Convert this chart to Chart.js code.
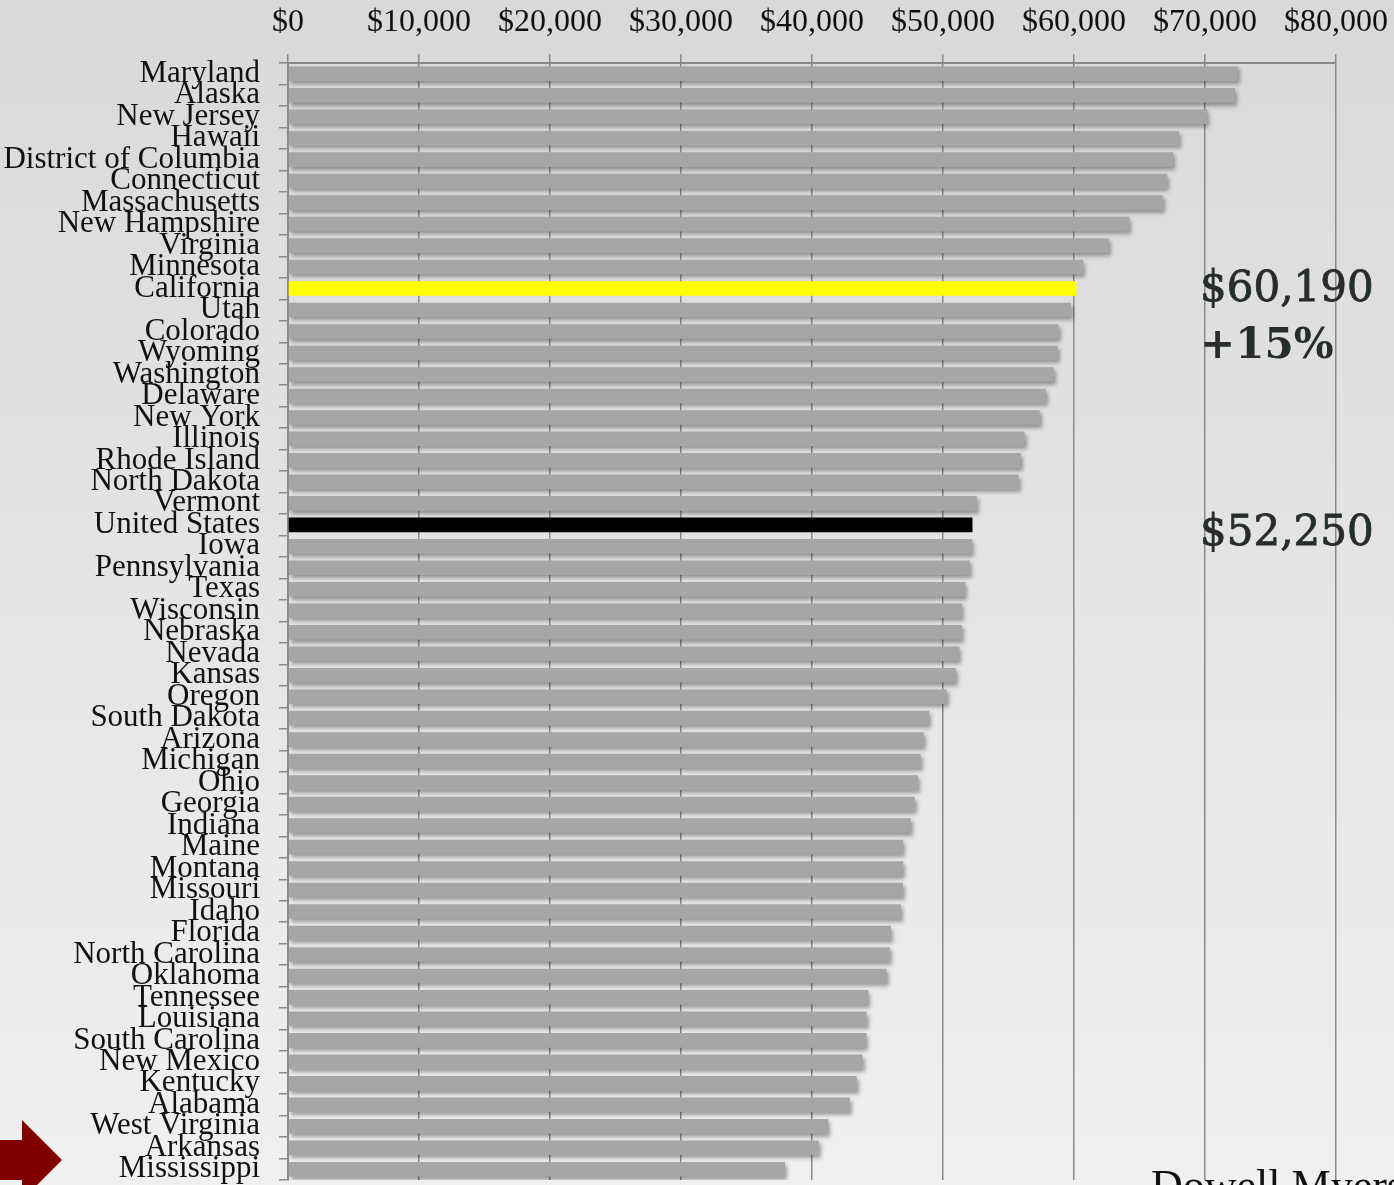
<!DOCTYPE html>
<html>
<head>
<meta charset="utf-8">
<script src="https://cdn.jsdelivr.net/npm/chart.js@4/dist/chart.umd.min.js"></script>
<style>
  html, body { margin: 0; padding: 0; background: #e3e3e3; }
  #wrap { width: 1394px; height: 1185px; position: relative; overflow: hidden; }
</style>
</head>
<body>
<div id="wrap"><canvas id="c" width="1394" height="1185"></canvas></div>
<script>
const categories = [
  'Maryland','Alaska','New Jersey','Hawaii','District of Columbia','Connecticut','Massachusetts',
  'New Hampshire','Virginia','Minnesota','California','Utah','Colorado','Wyoming','Washington',
  'Delaware','New York','Illinois','Rhode Island','North Dakota','Vermont','United States','Iowa',
  'Pennsylvania','Texas','Wisconsin','Nebraska','Nevada','Kansas','Oregon','South Dakota','Arizona',
  'Michigan','Ohio','Georgia','Indiana','Maine','Montana','Missouri','Idaho','Florida',
  'North Carolina','Oklahoma','Tennessee','Louisiana','South Carolina','New Mexico','Kentucky',
  'Alabama','West Virginia','Arkansas','Mississippi'
];
const medianIncome = [
  72500, 72290, 70180, 68015, 67580, 67120, 66770,
  64220, 62650, 60710, 60190, 59770, 58830, 58750, 58450,
  57860, 57380, 56230, 55930, 55780, 52570, 52250, 52240,
  52040, 51700, 51450, 51430, 51250, 50970, 50280, 48950, 48520,
  48300, 48090, 47840, 47530, 46970, 46960, 46950, 46790, 46030,
  45930, 45710, 44300, 44170, 44160, 43870, 43410,
  42880, 41250, 40510, 37940
];
const highlightColors = { 'California': '#ffff00', 'United States': '#000000' };
const xTickLabels = ['$0','$10,000','$20,000','$30,000','$40,000','$50,000','$60,000','$70,000','$80,000'];
const annotations = [
  { anchor: 'California', lines: [ { text: '$60,190', bold: false, dy: 12 }, { text: '+15%', bold: true, dy: 69 } ] },
  { anchor: 'United States', lines: [ { text: '$52,250', bold: false, dy: 20 } ] }
];

const grayData = medianIncome.map((v, i) => highlightColors[categories[i]] ? null : v);
const hiData = medianIncome.map((v, i) => highlightColors[categories[i]] ? v : null);
const hiColors = categories.map(c => highlightColors[c] || '#a6a6a6');

const bgPlugin = {
  id: 'bg',
  beforeDraw(chart) {
    const ctx = chart.ctx;
    const g = ctx.createLinearGradient(0, 0, 0, chart.height);
    g.addColorStop(0, '#d9d9d9');
    g.addColorStop(1, '#f0f0f0');
    ctx.save();
    ctx.fillStyle = g;
    ctx.fillRect(0, 0, chart.width, chart.height);
    ctx.restore();
  }
};

const shadowPlugin = {
  id: 'shadow',
  beforeDatasetDraw(chart, args) {
    if (args.index === 0) {
      const ctx = chart.ctx;
      ctx.save();
      ctx.shadowColor = 'rgba(0,0,0,0.35)';
      ctx.shadowBlur = 4;
      ctx.shadowOffsetX = 2;
      ctx.shadowOffsetY = 3;
    }
  },
  afterDatasetDraw(chart, args) {
    if (args.index === 0) chart.ctx.restore();
  }
};

const overlayPlugin = {
  id: 'overlay',
  afterDraw(chart) {
    const ctx = chart.ctx;
    const y = chart.scales.y;
    ctx.save();
    ctx.fillStyle = '#262d2d';
    ctx.strokeStyle = '#262d2d';
    ctx.lineWidth = 0.8;
    ctx.textBaseline = 'alphabetic';
    ctx.textAlign = 'left';
    annotations.forEach(a => {
      const yc = y.getPixelForValue(categories.indexOf(a.anchor));
      a.lines.forEach(l => {
        ctx.font = (l.bold ? 'bold ' : '') + '42px "DejaVu Serif"';
        ctx.fillText(l.text, 1200, yc + l.dy);
        if (!l.bold) ctx.strokeText(l.text, 1200, yc + l.dy);
      });
    });
    // author credit (cut off at bottom)
    ctx.fillStyle = '#111';
    ctx.font = '44px "Liberation Serif"';
    ctx.fillText('Dowell Myers', 1151, 1200);
    // red arrow
    ctx.fillStyle = '#800000';
    ctx.beginPath();
    ctx.moveTo(0, 1140);
    ctx.lineTo(22, 1140);
    ctx.lineTo(22, 1120);
    ctx.lineTo(62, 1160);
    ctx.lineTo(22, 1200);
    ctx.lineTo(22, 1180);
    ctx.lineTo(0, 1180);
    ctx.closePath();
    ctx.fill();
    ctx.restore();
  }
};

new Chart(document.getElementById('c'), {
  type: 'bar',
  data: {
    labels: categories,
    datasets: [
      { data: grayData, backgroundColor: '#a6a6a6', borderWidth: 0, categoryPercentage: 1, barPercentage: 0.68, grouped: false },
      { data: hiData, backgroundColor: hiColors, borderWidth: 0, categoryPercentage: 1, barPercentage: 0.68, grouped: false }
    ]
  },
  options: {
    indexAxis: 'y',
    responsive: false,
    animation: false,
    layout: { padding: { left: 0, right: 58, top: 0, bottom: 5 } },
    plugins: { legend: { display: false }, tooltip: { enabled: false } },
    scales: {
      x: {
        position: 'top',
        min: 0, max: 80000,
        afterFit: s => { s.height = 63; s.paddingLeft = 0; s.paddingRight = 0; },
        ticks: {
          stepSize: 10000,
          autoSkip: false,
          maxRotation: 0,
          padding: 12,
          color: '#111',
          font: { family: '"Liberation Serif"', size: 32 },
          callback: (v, i) => xTickLabels[i]
        },
        grid: { color: '#8a8a8a', lineWidth: 1.5, tickLength: 9, drawTicks: true },
        border: { color: '#8a8a8a', width: 2 }
      },
      y: {
        afterFit: s => { s.width = 288; s.paddingTop = 0; s.paddingBottom = 0; },
        ticks: {
          autoSkip: false,
          padding: 19,
          color: '#111',
          font: { family: '"Liberation Serif"', size: 31 }
        },
        grid: { offset: true, drawOnChartArea: false, drawTicks: true, tickLength: 9, color: '#8a8a8a', lineWidth: 1.5 },
        border: { color: '#8a8a8a', width: 2 }
      }
    }
  },
  plugins: [bgPlugin, shadowPlugin, overlayPlugin]
});
</script>
</body>
</html>
